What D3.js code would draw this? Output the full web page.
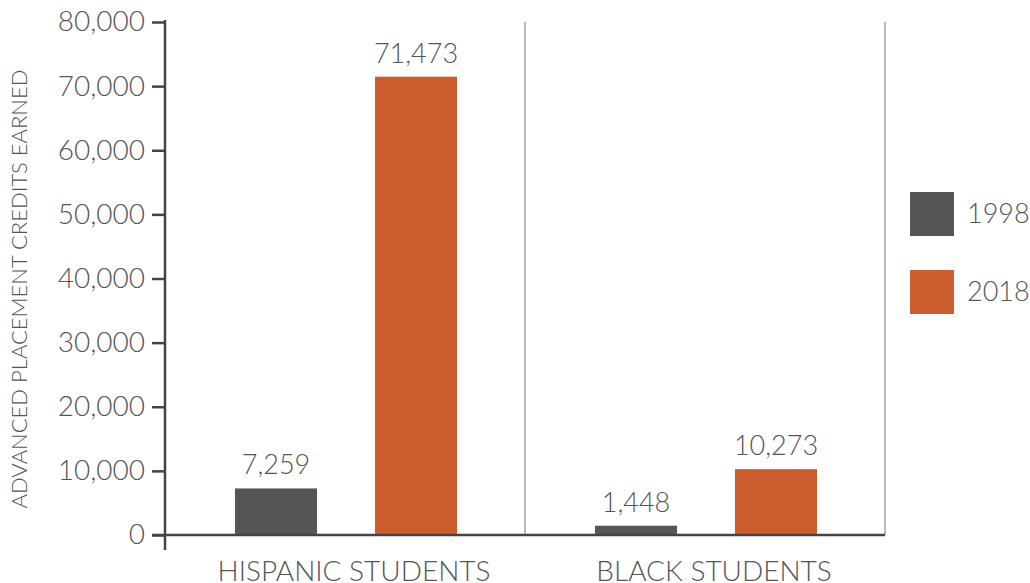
<!DOCTYPE html>
<html><head><meta charset="utf-8">
<script src="https://cdn.jsdelivr.net/npm/d3@7"></script>
<style>
body{margin:0;background:#fff;}
svg text{font-family:Lato,"Open Sans",sans-serif;font-weight:300;}
</style></head>
<body><svg id="c" width="1030" height="583"></svg>
<script>
const categories = ["HISPANIC STUDENTS", "BLACK STUDENTS"];
const series = ["1998", "2018"];
const values1998 = [7259, 1448];
const values2018 = [71473, 10273];
const yTicks = [0, 10000, 20000, 30000, 40000, 50000, 60000, 70000, 80000];
const colors = ["#555555", "#cd5d2c"];
const yTitle = "ADVANCED PLACEMENT CREDITS EARNED";

const seriesValues = [values1998, values2018];
const data = categories.map((c, i) => ({cat: c, vals: series.map((s, j) => ({s, v: seriesValues[j][i], color: colors[j]}))}));

const svg = d3.select("#c");
const pL = 165, pR = 885, pT = 22, pB = 535;

const y = d3.scaleLinear().domain([0, 80000]).range([pB, pT]);
const x0 = d3.scaleBand().domain(categories).range([pL, pR]).padding(0);
const x1 = d3.scaleBand().domain(series).range([70, 292]).paddingInner(0.414).paddingOuter(0);

// separators
svg.selectAll("line.sep").data(categories).enter().append("line")
  .attr("x1", d => x0(d) + x0.bandwidth()).attr("x2", d => x0(d) + x0.bandwidth())
  .attr("y1", pT).attr("y2", pB)
  .attr("stroke", "#8a8a8a").attr("stroke-width", 1.2);

// bars
const g = svg.selectAll("g.grp").data(data).enter().append("g")
  .attr("transform", d => `translate(${x0(d.cat)},0)`);
g.selectAll("rect").data(d => d.vals).enter().append("rect")
  .attr("x", d => x1(d.s)).attr("width", x1.bandwidth())
  .attr("y", d => y(d.v)).attr("height", d => y(0) - y(d.v))
  .attr("fill", d => d.color);
g.selectAll("text.val").data(d => d.vals).enter().append("text")
  .attr("x", d => x1(d.s) + x1.bandwidth() / 2)
  .attr("y", d => y(d.v) - 14)
  .attr("text-anchor", "middle").attr("font-size", 27).attr("fill", "#555")
  .text(d => d3.format(",")(d.v));

// y axis
const ya = svg.append("g").attr("transform", `translate(${pL},0)`)
  .call(d3.axisLeft(y).tickValues(yTicks).tickFormat(d3.format(",")).tickSize(13).tickPadding(7));
ya.select(".domain").remove();
ya.selectAll(".tick line").attr("stroke", "#444").attr("stroke-width", 2.5);
ya.selectAll(".tick text").attr("font-size", 28).attr("fill", "#555")
  .style("font-family", "Lato").style("font-weight", 300);
svg.append("line").attr("x1", pL).attr("x2", pL).attr("y1", y(80000) - 2).attr("y2", pB + 15)
  .attr("stroke", "#444").attr("stroke-width", 2.5);
// x axis
svg.append("line").attr("x1", pL - 13).attr("x2", pR).attr("y1", pB).attr("y2", pB)
  .attr("stroke", "#444").attr("stroke-width", 2.5);

// category labels
svg.selectAll("text.cat").data(categories).enter().append("text")
  .attr("x", d => x0(d) + x0.bandwidth() / 2 + 9).attr("y", 581)
  .attr("text-anchor", "middle").attr("font-size", 28).attr("fill", "#555")
  .text(d => d);

// y title
svg.append("text").attr("transform", "translate(27,289) rotate(-90)")
  .attr("text-anchor", "middle").attr("font-size", 22).attr("fill", "#555")
  .text(yTitle);

// legend
const lg = svg.selectAll("g.leg").data(series).enter().append("g")
  .attr("transform", (d, i) => `translate(910,${192 + i * 78})`);
lg.append("rect").attr("width", 44).attr("height", 44).attr("fill", (d, i) => colors[i]);
lg.append("text").attr("x", 57).attr("y", 22).attr("dy", "0.35em")
  .attr("font-size", 27).attr("fill", "#555").text(d => d);
</script></body></html>
